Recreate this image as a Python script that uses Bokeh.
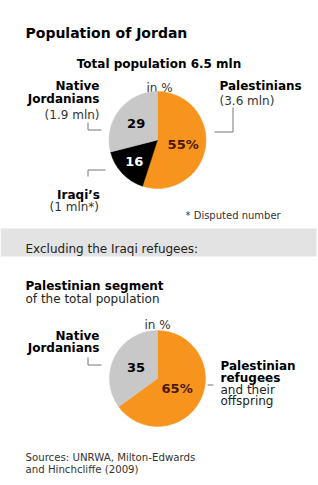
import math
from bokeh.plotting import figure
from bokeh.models import Range1d
from bokeh.core.properties import value
from bokeh.embed import file_html
from bokeh.resources import INLINE

W, H = 318, 485

# ---------------- data ----------------
title = "Population of Jordan"
pie1_title = "Total population 6.5 mln"
unit_label = "in %"
pie1_categories = ["Palestinians", "Iraqi\u2019s", "Native Jordanians"]
pie1_values = [55, 16, 29]
pie1_mln = ["3.6", "1", "1.9"]
pie1_colors = ["#f7941d", "#000000", "#c8c8c8"]
pie1_value_colors = ["#4a1800", "#ffffff", "#000000"]
footnote = "* Disputed number"
band_text = "Excluding the Iraqi refugees:"
pie2_title_bold = "Palestinian segment"
pie2_title_rest = "of the total population"
pie2_categories = ["Palestinian refugees", "Native Jordanians"]
pie2_values = [65, 35]
pie2_colors = ["#f7941d", "#c8c8c8"]
pie2_value_colors = ["#4a1800", "#000000"]
sources = ["Sources: UNRWA, Milton-Edwards", "and Hinchcliffe (2009)"]

FONT = value("DejaVu Sans")
TXT = "#1a1a1a"
LEAD = "#777777"

p = figure(width=W, height=H, x_range=Range1d(0, W), y_range=Range1d(0, H),
           output_backend="svg", toolbar_location=None, min_border=0,
           background_fill_color="white", border_fill_color="white")
p.axis.visible = False
p.grid.visible = False
p.outline_line_color = None


def Y(v):
    return H - v


def label(x, y, s, size="12px", bold=False, align="left", color=TXT, baseline="alphabetic"):
    p.text(x=[x], y=[Y(y)], text=[s], text_font=FONT, text_font_size=size,
           text_font_style="bold" if bold else "normal", text_align=align,
           text_baseline=baseline, text_color=color)


def leader(pts):
    p.line(x=[a for a, b in pts], y=[Y(b) for a, b in pts], line_color=LEAD, line_width=1)


def draw_pie(cx, cy, r, values, colors, vtexts, vcolors, label_r):
    total = float(sum(values))
    cum = 0.0
    starts, ends = [], []
    for v in values:
        a0 = math.pi / 2 - 2 * math.pi * cum / total
        cum += v
        a1 = math.pi / 2 - 2 * math.pi * cum / total
        starts.append(a0)
        ends.append(a1)
    n = len(values)
    p.wedge(x=[cx] * n, y=[Y(cy)] * n, radius=r, start_angle=starts, end_angle=ends,
            direction="clock", fill_color=colors, line_color=colors, line_width=0.5)
    for i in range(n):
        m = (starts[i] + ends[i]) / 2
        lx = cx + label_r[i] * math.cos(m)
        ly = Y(cy) + label_r[i] * math.sin(m)
        p.text(x=[lx], y=[ly], text=[vtexts[i]], text_font=FONT, text_font_size="13px",
               text_font_style="bold", text_align="center", text_baseline="middle",
               text_color=vcolors[i])


# ---------------- top section ----------------
label(25, 32.5, title, size="14px", bold=True, color="#000000")
label(158.5, 63.5, pie1_title, bold=True, align="center", color="#000000")
label(159, 87, unit_label, align="center", color="#333333")

pie1_vtexts = [f"{pie1_values[0]}%"] + [str(v) for v in pie1_values[1:]]
draw_pie(157, 139.5, 48.5, pie1_values, pie1_colors, pie1_vtexts, pie1_value_colors, [26, 32, 27])

# labels
nat_words = pie1_categories[2].split(" ")
label(99, 85.7, nat_words[0], bold=True, align="right", color="#000000")
label(99, 98.3, nat_words[1], bold=True, align="right", color="#000000")
label(99, 114, f"({pie1_mln[2]} mln)", align="right", color="#333333")

label(219, 85.7, pie1_categories[0], bold=True, color="#000000")
label(219, 100.7, f"({pie1_mln[0]} mln)", color="#333333")

label(99.5, 194, pie1_categories[1], bold=True, align="right", color="#000000")
label(98.5, 206.5, f"({pie1_mln[1]} mln*)", align="right", color="#333333")

label(185, 215, footnote, size="10px", color="#333333")

leader([(87.5, 122), (87.5, 129.5), (101, 129.5)])
leader([(232.5, 107), (232.5, 131.5), (214, 131.5)])
leader([(105, 169.5), (87.5, 169.5), (87.5, 176)])

# ---------------- band ----------------
p.quad(left=[0], right=[316], top=[Y(228)], bottom=[Y(256)], fill_color="#e3e3e3", line_color=None)
label(25, 248.3, band_text, size="12px", color="#222222")

# ---------------- bottom section ----------------
label(25, 285, pie2_title_bold, bold=True, color="#000000")
label(25, 298.5, pie2_title_rest, color="#222222")
label(157, 324.5, unit_label, align="center", color="#333333")

pie2_vtexts = [f"{pie2_values[0]}%"] + [str(v) for v in pie2_values[1:]]
draw_pie(157, 378, 48, pie2_values, pie2_colors, pie2_vtexts, pie2_value_colors, [22, 24])

nat2 = pie2_categories[1].split(" ")
label(99, 335.7, nat2[0], bold=True, align="right", color="#000000")
label(99, 347.7, nat2[1], bold=True, align="right", color="#000000")

pal2 = pie2_categories[0].split(" ")
label(220, 365, pal2[0], bold=True, color="#000000")
label(220, 377, pal2[1], bold=True, color="#000000")
label(220, 389.3, "and their", color="#222222")
label(220, 400.7, "offspring", color="#222222")

leader([(87.5, 357), (87.5, 364.5), (101, 364.5)])
leader([(207, 384.5), (213, 384.5)])

label(25, 457, sources[0], size="10.2px", color="#333333")
label(25, 468.5, sources[1], size="10.2px", color="#333333")

open("out.html", "w").write(file_html(p, INLINE))
